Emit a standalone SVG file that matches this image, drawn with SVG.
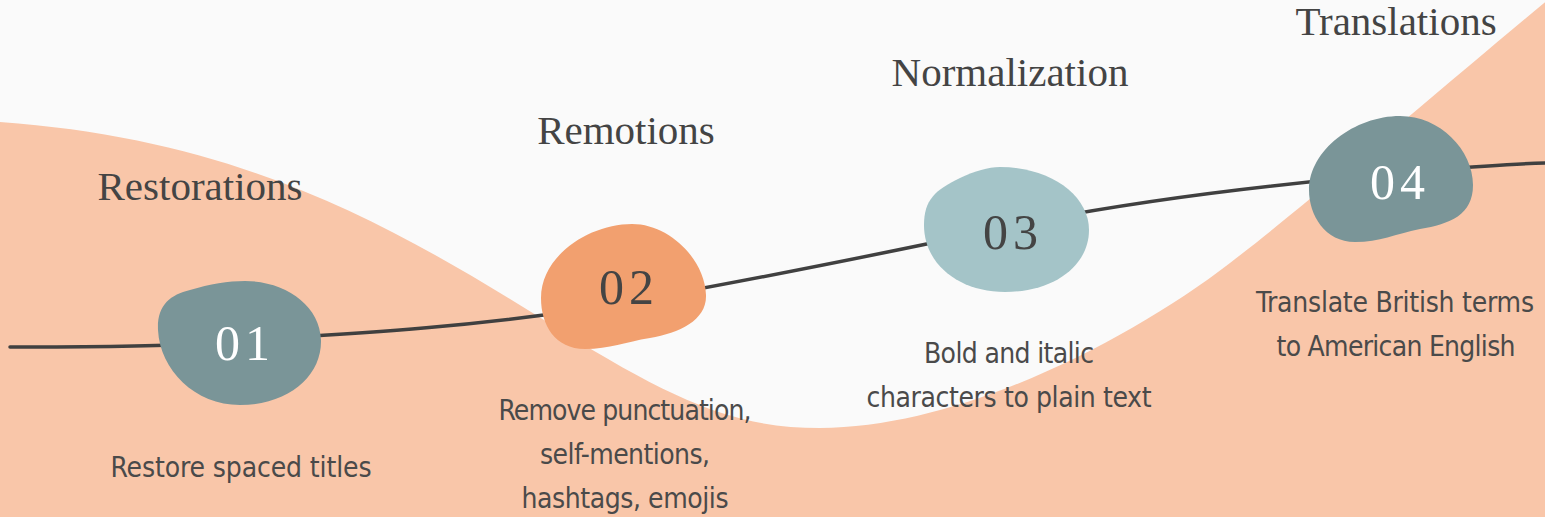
<svg xmlns="http://www.w3.org/2000/svg" width="1545" height="517" viewBox="0 0 1545 517">
<style>
.title{font-family:"Liberation Serif","DejaVu Serif",serif;font-size:41px;fill:#444;text-anchor:middle}
.num{font-family:"Liberation Serif","DejaVu Serif",serif;font-size:50px;text-anchor:middle;letter-spacing:5px}
.desc{font-family:"Liberation Sans Narrow","DejaVu Sans Condensed","Roboto Condensed","Liberation Sans",sans-serif;font-stretch:condensed;font-size:28px;fill:#4a4a4a;text-anchor:middle}
.conn{fill:none;stroke:#404040;stroke-width:3.5;stroke-linecap:round}
</style>
<rect width="1545" height="517" fill="#fafafa"/>
<path id="wave" d="M0,122 C250,140 400,230 560,330 C680,405 740,428 820,428 C960,428 1130,340 1230,263 C1330,186 1480,55 1560,-10 L1560,517 L0,517 Z" fill="#f9c6a9"/>
<g id="connectors">
<path class="conn" d="M10,347 C100,347 160,346 200,344"/>
<path class="conn" d="M280,338 C380,332 470,326 580,310"/>
<path class="conn" d="M660,296 C760,278 860,258 970,235"/>
<path class="conn" d="M1040,220 C1130,203 1220,190 1350,178"/>
<path class="conn" d="M1430,170 C1470,167 1510,164 1545,163"/>
</g>
<g id="node1">
<path d="M245,281 C285,281 320,305 321,340 C322,375 290,405 240,405 C195,405 160,370 158,330 C157,305 170,295 190,290 C210,284 228,281 245,281 Z" fill="#7a9598"/>
<text class="num" x="245" y="360" fill="#ffffff">01</text>
<text class="title" x="200" y="200">Restorations</text>
<text class="desc" x="241" y="477" textLength="261">Restore spaced titles</text>
</g>
<g id="node2">
<path d="M632,224 C670,224 705,260 706,295 C707,320 680,333 650,338 C625,342 610,349 585,349 C555,349 541,325 541,298 C541,255 590,224 632,224 Z" fill="#f2a06f"/>
<text class="num" x="629" y="304" fill="#444">02</text>
<text class="title" x="626" y="144">Remotions</text>
<text class="desc" x="625" y="420" textLength="253">Remove punctuation,</text>
<text class="desc" x="625" y="464" textLength="170">self-mentions,</text>
<text class="desc" x="625" y="508" textLength="207">hashtags, emojis</text>
</g>
<g id="node3">
<path d="M1000,167 C1050,167 1089,195 1089,230 C1089,265 1055,292 1005,292 C960,292 924,265 924,225 C924,200 935,190 960,178 C975,171 988,167 1000,167 Z" fill="#a4c4c8"/>
<text class="num" x="1013" y="249" fill="#444">03</text>
<text class="title" x="1010" y="86">Normalization</text>
<text class="desc" x="1009" y="363" textLength="170">Bold and italic</text>
<text class="desc" x="1009" y="407" textLength="285">characters to plain text</text>
</g>
<g id="node4">
<path d="M1400,116 C1440,116 1473,150 1473,185 C1473,215 1450,224 1420,229 C1395,234 1380,242 1355,242 C1325,242 1309,215 1309,190 C1309,150 1355,116 1400,116 Z" fill="#7a9598"/>
<text class="num" x="1400" y="199" fill="#ffffff">04</text>
<text class="title" x="1396" y="35">Translations</text>
<text class="desc" x="1395" y="312" textLength="278">Translate British terms</text>
<text class="desc" x="1396" y="356" textLength="239">to American English</text>
</g>
</svg>
